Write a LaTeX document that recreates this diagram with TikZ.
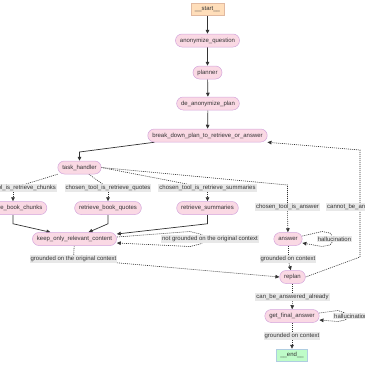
\documentclass[tikz,border=0pt]{standalone}
\usepackage{fontspec}
\setmainfont{Liberation Sans}
\usetikzlibrary{arrows.meta,calc,backgrounds}
\definecolor{pinkfill}{RGB}{250,217,228}
\definecolor{pinkdraw}{RGB}{212,165,220}
\definecolor{startfill}{RGB}{255,222,186}
\definecolor{startdraw}{RGB}{225,185,160}
\definecolor{endfill}{RGB}{190,252,200}
\definecolor{enddraw}{RGB}{175,205,225}
\definecolor{ink}{RGB}{51,51,51}
\definecolor{lblfill}{RGB}{232,232,232}
\begin{document}
\begin{tikzpicture}[x=1pt,y=-1pt,
  font=\fontsize{6}{7}\selectfont, text=ink,
  nd/.style={draw=pinkdraw, fill=pinkfill, rounded corners=6.5pt, minimum height=13pt, inner xsep=4.5pt, inner ysep=0pt, line width=0.5pt},
  term/.style={minimum height=12pt, inner xsep=4pt, inner ysep=0pt, line width=0.5pt},
  lbl/.style={fill=lblfill, inner xsep=1pt, inner ysep=0.8pt},
  sol/.style={draw=ink, line width=0.7pt, -{Triangle[length=4pt,width=3.6pt]}},
  dot/.style={draw=ink, line width=0.6pt, dash pattern=on 1pt off 1pt},
  dotarr/.style={dot, -{Triangle[length=4pt,width=3.6pt]}},
]
\useasboundingbox (0,0) rectangle (365,365);
\clip (0,0) rectangle (365,365);
% nodes
\node[term,fill=startfill,draw=startdraw] (start) at (207.5,9) {\_\_start\_\_};
\node[nd] (anon) at (207.5,40.5) {anonymize\_question};
\node[nd] (plan) at (207.5,72.5) {planner};
\node[nd] (deanon) at (208,103.5) {de\_anonymize\_plan};
\node[nd] (brk) at (207.5,135.5) {break\_down\_plan\_to\_retrieve\_or\_answer};
\node[nd] (th) at (79.5,167.5) {task\_handler};
\node[nd] (chunks) at (13,208) {retrieve\_book\_chunks};
\node[nd] (quotes) at (108,208) {retrieve\_book\_quotes};
\node[nd] (summ) at (207.5,208) {retrieve\_summaries};
\node[nd] (keep) at (74.5,239) {keep\_only\_relevant\_content};
\node[nd] (ans) at (288,239) {answer};
\node[nd] (replan) at (292.5,277) {replan};
\node[nd] (gfa) at (292,316) {get\_final\_answer};
\node[term,fill=endfill,draw=enddraw] (fin) at (292,355) {\_\_end\_\_};
% labels
\node[lbl] (Lchunks) at (13,188) {chosen\_tool\_is\_retrieve\_chunks};
\node[lbl] (Lquotes) at (108,188) {chosen\_tool\_is\_retrieve\_quotes};
\node[lbl] (Lsumm) at (207.5,188) {chosen\_tool\_is\_retrieve\_summaries};
\node[lbl] (Lans) at (287.5,207) {chosen\_tool\_is\_answer};
\node[lbl,anchor=west] (Lcannot) at (326,207) {cannot\_be\_answered\_yet};
\node[lbl] (Lnot) at (210,239) {not grounded on the original context};
\node[lbl] (Lhal1) at (334.5,239) {hallucination};
\node[lbl] (Lgorig) at (73.5,259) {grounded on the original context};
\node[lbl] (Lgc1) at (288,259) {grounded on context};
\node[lbl] (Lcba) at (292.5,297) {can\_be\_answered\_already};
\node[lbl,anchor=west] (Lhal2) at (333,316) {hallucination};
\node[lbl] (Lgc2) at (292,336) {grounded on context};
% edges
\begin{pgfonlayer}{background}
\draw[sol] (start) -- (anon);
\draw[sol] (anon) -- (plan);
\draw[sol] (plan) -- (deanon);
\draw[sol] (deanon) -- (brk);
\draw[sol] ($(brk.south)+(-53,0)$) -- (79.5,152) -- (th.north);
\draw[dot] (th) -- (Lchunks);
\draw[dotarr] (Lchunks) -- (chunks);
\draw[dot] (th) -- (Lquotes);
\draw[dotarr] (Lquotes) -- (quotes);
\draw[dot] (th.east) -- (Lsumm);
\draw[dotarr] (Lsumm) -- (summ);
\draw[dot] (th.east) -- (287.5,185) -- (Lans);
\draw[dotarr] (Lans) -- (ans);
\draw[sol] (chunks.south) -- ++(0,9) -- ($(keep.north)+(-24,0)$);
\draw[sol] (quotes.south) -- ++(0,9) -- ($(keep.north)+(14,0)$);
\draw[sol] (summ.south) -- ++(0,9) -- ($(keep.east)+(0,-5)$);
\draw[dot] ($(keep.east)+(0,-2)$) -- (190,231.5) -- (200,234) -- (Lnot);
\draw[dotarr] (Lnot) -- (200,244) -- (190,246.5) -- ($(keep.east)+(0,4)$);
\draw[dot] ($(ans.east)+(0,-3)$) -- (322,231.5) -- (330,233) -- (Lhal1);
\draw[dotarr] (Lhal1) -- (330,245) -- (322,246.5) -- ($(ans.east)+(0,4)$);
\draw[dot] (keep) -- (Lgorig);
\draw[dotarr] (Lgorig) -- (replan.west);
\draw[dot] (ans) -- (Lgc1);
\draw[dotarr] (Lgc1) -- (replan);
\draw[dotarr] (replan.east) -- (360,257) -- (360,150) -- (brk.south east);
\draw[dot] (replan) -- (Lcba);
\draw[dotarr] (Lcba) -- (gfa);
\draw[dot] ($(gfa.east)+(0,-3)$) -- (338,310.5) -- (345,313) -- (Lhal2);
\draw[dotarr] (Lhal2) -- (345,320) -- (338,321.5) -- ($(gfa.east)+(0,4)$);
\draw[dot] (gfa) -- (Lgc2);
\draw[dotarr] (Lgc2) -- (fin);
\end{pgfonlayer}
\end{tikzpicture}
\end{document}
